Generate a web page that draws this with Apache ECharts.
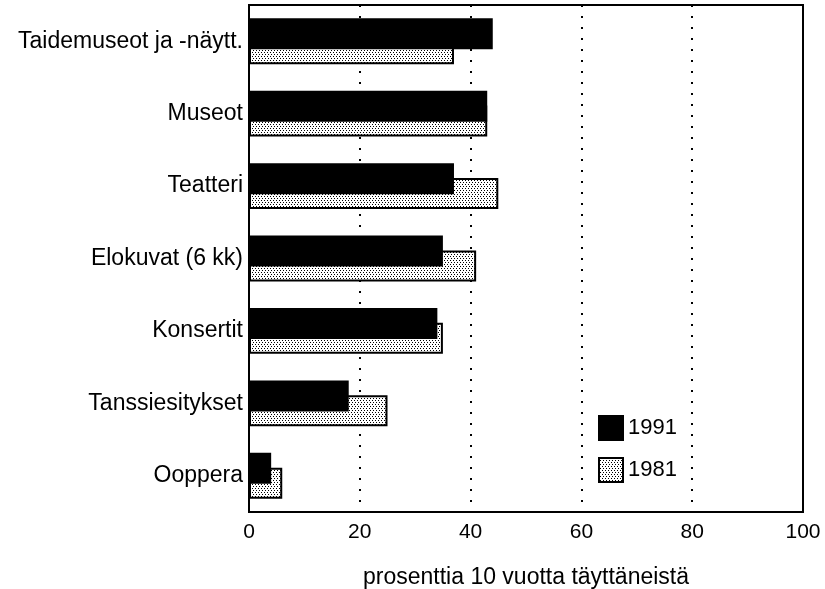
<!DOCTYPE html>
<html>
<head>
<meta charset="utf-8">
<script src="https://cdn.jsdelivr.net/npm/echarts@6/dist/echarts.min.js"></script>
<style>
  html, body { margin: 0; padding: 0; background: #fff; }
  #chart { width: 825px; height: 589px; }
</style>
</head>
<body>
<div id="chart"></div>
<script>
var categories = ['Taidemuseot ja -näytt.', 'Museot', 'Teatteri', 'Elokuvat (6 kk)', 'Konsertit', 'Tanssiesitykset', 'Ooppera'];
var values1991 = [44, 43, 37, 35, 34, 18, 4];
var values1981 = [37, 43, 45, 41, 35, 25, 6];
var xTicks = [0, 20, 40, 60, 80, 100];

// pisterasteri 1981-palkeille
function dotPattern() {
    var c = document.createElement('canvas');
    c.width = 3;
    c.height = 4;
    var ctx = c.getContext('2d');
    ctx.fillStyle = '#fff';
    ctx.fillRect(0, 0, 3, 4);
    ctx.fillStyle = '#000';
    ctx.fillRect(0, 0, 1, 1);
    ctx.fillRect(1, 2, 1, 1);
    return c;
}
var dots = { image: dotPattern(), repeat: 'repeat' };

var font = 'Liberation Sans, Arial, sans-serif';
var myChart = echarts.init(document.getElementById('chart'));
myChart.setOption({
    animation: false,
    grid: {
        left: 249, right: 22, top: 5, bottom: 77,
        outerBoundsMode: 'none',
        show: true, borderColor: '#000', borderWidth: 2, backgroundColor: 'transparent'
    },
    legend: {
        orient: 'vertical',
        left: 593, top: 410,
        icon: 'rect',
        itemWidth: 24, itemHeight: 24, itemGap: 16,
        textStyle: { fontFamily: font, fontSize: 22, color: '#000' },
        data: ['1991', '1981']
    },
    xAxis: {
        type: 'value',
        min: 0, max: 100, interval: 20,
        name: 'prosenttia 10 vuotta täyttäneistä',
        nameLocation: 'middle',
        nameGap: 54,
        nameTextStyle: { fontFamily: font, fontSize: 23, color: '#000' },
        axisLine: { show: true, lineStyle: { color: '#000', width: 2 } },
        axisTick: { show: false },
        axisLabel: {
            fontFamily: font, fontSize: 21, color: '#000', margin: 10,
            formatter: function (v) { return xTicks.indexOf(v) >= 0 ? String(v) : ''; }
        },
        splitLine: { show: true, lineStyle: { color: '#000', width: 2, type: [2, 9] } }
    },
    yAxis: {
        type: 'category',
        inverse: true,
        data: categories,
        axisLine: { show: true, lineStyle: { color: '#000', width: 2 } },
        axisTick: { show: false },
        axisLabel: { fontFamily: font, fontSize: 23, color: '#000', margin: 6 }
    },
    series: [
        {
            name: '1991',
            type: 'bar',
            data: values1991,
            barWidth: 31,
            barGap: '-52%',
            z: 3,
            itemStyle: { color: '#000', borderColor: '#000', borderWidth: 2 }
        },
        {
            name: '1981',
            type: 'bar',
            data: values1981,
            barWidth: 31,
            z: 2,
            itemStyle: { color: dots, borderColor: '#000', borderWidth: 2 }
        }
    ]
});
</script>
</body>
</html>
